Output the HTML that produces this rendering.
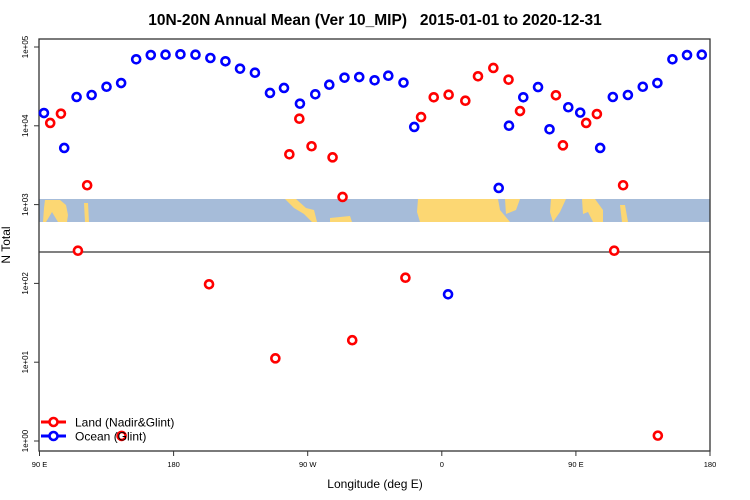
<!DOCTYPE html>
<html><head><meta charset="utf-8"><style>
body{margin:0;background:#fff;}
svg{display:block;font-family:"Liberation Sans",sans-serif;}
</style></head><body>
<svg id="chart" width="750" height="500">
<text x="375" y="25" text-anchor="middle" font-size="15.5" font-weight="bold">10N-20N Annual Mean (Ver 10_MIP)&#160;&#160;&#160;2015-01-01 to 2020-12-31</text>
<g>
<rect x="39" y="199" width="671" height="23" fill="#a6bcd9"/>
<g fill="#fcd773">
<polygon points="45,200 60,200 66,205 68,215 67,222 58,222 52,212 46,222 43,222 44,208"/>
<polygon points="84,203 88,203 89,222 85,222"/>
<polygon points="285,199 296,199 306,208 314,210 317,222 312,222 304,214 294,208"/>
<polygon points="330,218 350,216 352,222 330,222"/>
<polygon points="418,199 498,199 500,210 505,216 510,222 420,222 417,212"/>
<polygon points="505,199 520,199 516,210 506,214"/>
<polygon points="551,199 566,199 560,212 553,222 550,212"/>
<polygon points="582,199 595,199 603,210 603,222 593,222 588,212 583,214"/>
<polygon points="620,205 625,205 628,222 622,222"/>
</g>
</g>
<line x1="39" y1="252" x2="710" y2="252" stroke="#000" stroke-width="1"/>
<rect x="39" y="39" width="671" height="412" fill="none" stroke="#333" stroke-width="1.3"/>
<g id="axes"></g>
<g id="marks"></g>
<text transform="translate(10,245) rotate(-90)" text-anchor="middle" font-size="12">N Total</text>
<text x="375" y="488" text-anchor="middle" font-size="12">Longitude (deg E)</text>
<g>
<g>
<line x1="41" y1="422" x2="66" y2="422" stroke="#f00" stroke-width="3"/>
<circle cx="53.5" cy="422" r="4" fill="#fff" stroke="#f00" stroke-width="2.6"/>
<text x="75" y="426.5" font-size="12">Land (Nadir&amp;Glint)</text>
</g>
<g>
<line x1="41" y1="436" x2="66" y2="436" stroke="#00f" stroke-width="3"/>
<circle cx="53.5" cy="436" r="4" fill="#fff" stroke="#00f" stroke-width="2.6"/>
<text x="75" y="440.5" font-size="12">Ocean (Glint)</text>
</g>
</g>
</svg>
<script>
const xTickLons=[90,180,270,360,450,540];
const xTickLabels=["90 E","180","90 W","0","90 E","180"];
const yTickVals=[1,10,100,1000,10000,100000];
const yTickLabels=["1e+00","1e+01","1e+02","1e+03","1e+04","1e+05"];
const oceanLon=[93.0,106.6,114.9,125.0,135.0,144.8,154.9,164.7,174.6,184.6,194.7,204.7,214.8,224.6,234.6,244.7,254.1,264.8,275.1,284.5,294.7,304.6,314.9,324.1,334.3,341.5,364.2,398.2,405.1,414.7,424.6,432.3,444.9,452.9,466.3,474.8,484.9,494.9,504.7,514.8,524.6,534.5];
const oceanVal=[14530,5230,23200,24600,31300,34900,69800,79100,79800,80800,79800,72500,65900,53100,47200,26100,30200,19100,25100,33200,40800,41600,37800,43200,35300,9660,72.7,1625,10030,23000,31000,9030,17200,14700,5230,23200,24600,31300,34900,69800,79100,79800];
const landLon=[97.2,104.4,115.8,122.0,145.1,203.8,248.3,257.7,264.4,272.6,286.7,293.4,299.9,335.6,346.1,354.6,364.6,375.8,384.3,394.6,404.8,412.5,436.6,441.3,456.9,464.1,475.7,481.7,505.0];
const landVal=[10860,14250,260,1760,1.16,97.5,11.2,4350,12300,5500,3980,1250,19.0,118,12900,23000,24800,20800,42500,54200,38500,15400,24400,5650,10860,14100,260,1760,1.17];

const NS="http://www.w3.org/2000/svg";
function xS(l){return 39.5+(l-90)*(670.5/450);}
function yS(v){return 441-Math.log10(v)*78.8;}
const axes=document.getElementById('axes');
const marks=document.getElementById('marks');
function mk(t,a,p){const e=document.createElementNS(NS,t);for(const k in a)e.setAttribute(k,a[k]);p.appendChild(e);return e;}
xTickLons.forEach((l,i)=>{
  const x=xS(l);
  const t=mk('line',{x1:x,y1:451,x2:x,y2:456,stroke:'#333','stroke-width':1},axes);
  
  
  const tx=mk('text',{x:x,y:467,'text-anchor':'middle','font-size':7.5},axes);
  tx.textContent=xTickLabels[i];
  
  
});
yTickVals.forEach((v,i)=>{
  const y=yS(v);
  const t=mk('line',{x1:34,y1:y,x2:39,y2:y,stroke:'#333','stroke-width':1},axes);
  
  
  const tx=mk('text',{transform:'translate(28,'+y+') rotate(-90)','text-anchor':'middle','font-size':8},axes);
  tx.textContent=yTickLabels[i];
  
  
});
oceanLon.forEach((l,i)=>{
  const c=mk('circle',{cx:xS(l),cy:yS(oceanVal[i]),r:4,fill:'#fff',stroke:'#00f','stroke-width':2.6},marks);
  
  
});
landLon.forEach((l,i)=>{
  const c=mk('circle',{cx:xS(l),cy:yS(landVal[i]),r:4,fill:'#fff',stroke:'#f00','stroke-width':2.6},marks);
  
  
});
</script>
</body></html>
